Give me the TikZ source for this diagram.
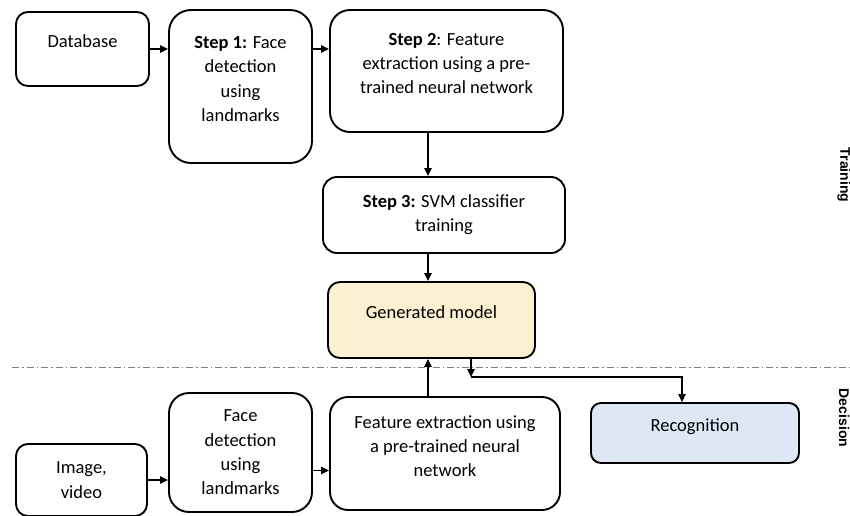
\documentclass[tikz,border=0pt]{standalone}
\usepackage{fontspec}
\setmainfont{Carlito}
\newfontfamily\sidefont{Liberation Sans}
\usepackage{tikz}
\usetikzlibrary{arrows.meta}
\definecolor{modelfill}{RGB}{252,240,211}
\definecolor{recogfill}{RGB}{222,232,245}
\definecolor{sepgray}{RGB}{125,125,125}

\begin{document}
\begin{tikzpicture}[x=1pt, y=-1pt,
    box/.style={draw, line width=1.9pt, rounded corners=12pt, align=center, inner sep=0pt,
        font=\fontsize{18.5}{24.3}\selectfont},
    textup/.style={execute at end node={\rule[-15pt]{0pt}{15pt}}},
    arr/.style={-{Triangle[length=8pt,width=7.5pt]}, line width=1.3pt},
    side/.style={rotate=-90, font=\sidefont\bfseries\fontsize{14}{16}\selectfont}]
    \useasboundingbox (0,0) rectangle (850,515);

    % training
    \node[box, textup, minimum width=133, minimum height=74] (db) at (82.5,49) {Database};
    \node[box, textup, rounded corners=22pt, minimum width=143, minimum height=153] (s1) at (240.5,86.5)
        {\textbf{Step 1:} Face\\detection\\using\\landmarks};
    \node[box, textup, rounded corners=20pt, minimum width=233, minimum height=122] (s2) at (446.5,71)
        {\textbf{Step 2}: Feature\\extraction using a pre-\\trained neural network};
    \node[box, rounded corners=14pt, minimum width=242, minimum height=76] (s3) at (444,215)
        {\textbf{Step 3:} SVM classifier\\training};
    \node[box, textup, fill=modelfill, minimum width=207, minimum height=76] (model) at (431.5,320)
        {Generated model};

    % decision
    \node[box, minimum width=131, minimum height=72] (img) at (81.5,480) {Image,\\video};
    \node[box, rounded corners=20pt, minimum width=143, minimum height=119] (fd) at (240.5,452.5)
        {Face\\detection\\using\\landmarks};
    \node[box, textup, rounded corners=18pt, minimum width=230, minimum height=113] (fe) at (445,453.5)
        {Feature extraction using\\a pre-trained neural\\network};
    \node[box, textup, rounded corners=10pt, fill=recogfill, minimum width=208, minimum height=60] (rec) at (695,433)
        {Recognition};

    \node[side] (train) at (844,175) {Training};
    \node[side] (decide) at (844,418) {Decision};

    % separation line
    \draw[sepgray, line width=1pt, dash pattern=on 7pt off 3pt on 1.5pt off 3pt] (12,367) -- (850,367);

    \coordinate (trunk) at (428,0);
    \coordinate (split) at (471,377);

    \draw[arr] (db.east) -- (db.east -| s1.west);
    \draw[arr] (s1.east |- db.east) -- (s2.west |- db.east);
    \draw[arr] (s2.south -| trunk) -- (s3.north -| trunk);
    \draw[arr] (s3.south -| trunk) -- (model.north -| trunk);

    \draw[arr] (img.east) -- (img.east -| fd.west);
    \draw[arr] ([yshift=-18pt]fd.east) -- ([yshift=-17pt]fe.west);
    \draw[arr] (fe.north -| trunk) -- (model.south -| trunk);
    \draw[arr] (model.south -| split) -- (split);
    \draw[arr] (split) -| ([xshift=-13pt]rec.north);
\end{tikzpicture}
\end{document}
